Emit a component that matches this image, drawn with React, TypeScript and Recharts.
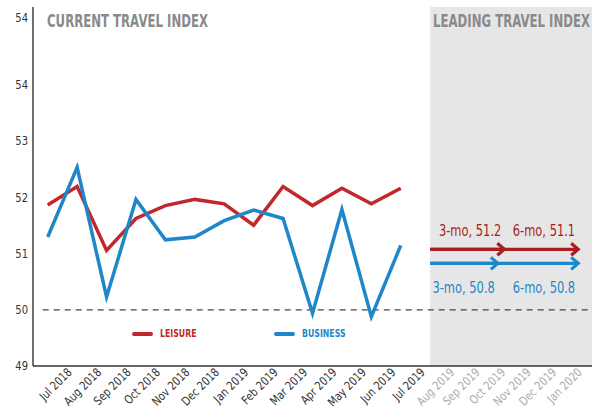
import React from 'react';
import { ComposedChart, Line, XAxis, YAxis, ReferenceArea, ReferenceLine, ReferenceDot, Legend } from 'recharts';

const months = ['Jul 2018', 'Aug 2018', 'Sep 2018', 'Oct 2018', 'Nov 2018', 'Dec 2018', 'Jan 2019', 'Feb 2019', 'Mar 2019', 'Apr 2019', 'May 2019', 'Jun 2019', 'Jul 2019', 'Aug 2019', 'Sep 2019', 'Oct 2019', 'Nov 2019', 'Dec 2019', 'Jan 2020'];
const leisure = [51.87, 52.2, 51.06, 51.63, 51.86, 51.97, 51.89, 51.51, 52.2, 51.86, 52.17, 51.89, 52.17];
const business = [51.3, 52.54, 50.23, 51.97, 51.25, 51.3, 51.59, 51.78, 51.63, 49.94, 51.79, 49.88, 51.15];
const yTicks = [49, 50, 51, 52, 53, 54, 55.2];
const yTickLabels = ['49', '50', '51', '52', '53', '54', '54'];
const forecastStart = 13;
const leisureArrowValue = 51.08;
const leisureArrowEnds = [15.52, 18.03];
const leisureArrowLabels = ['3-mo, 51.2', '6-mo, 51.1'];
const businessArrowValue = 50.83;
const businessArrowEnds = [15.3, 18.03];
const businessArrowLabels = ['3-mo, 50.8', '6-mo, 50.8'];
const baseline = 50;

const FONT = "'DejaVu Sans', sans-serif";
const RED = '#c1272d';
const RED_DARK = '#a61e22';
const BLUE = '#1f87c8';
const GREY_TITLE = '#8a8a8a';

const rows = months.map((m, i) => ({
  x: i,
  month: m,
  leisure: i < leisure.length ? leisure[i] : null,
  business: i < business.length ? business[i] : null,
}));

const CText = (p: any) => {
  const { x, y, sx = 0.76, rotate = 0, children, ...rest } = p;
  return (
    <text transform={`translate(${x},${y}) rotate(${rotate}) scale(${sx},1)`} x={0} y={0} fontFamily={FONT} {...rest}>
      {children}
    </text>
  );
};

const XTick = (props: any) => {
  const { x, y, payload } = props;
  const i = payload.value;
  const dx = 25 - Math.max(0, i - forecastStart) * 3.9;
  return (
    <CText
      x={x + dx}
      y={y + 7}
      rotate={-45}
      sx={0.82}
      textAnchor="end"
      fontSize={12}
      fill={i >= forecastStart ? '#ababab' : '#333'}
    >
      {months[i]}
    </CText>
  );
};

const YTick = (props: any) => {
  const { x, y, index } = props;
  return (
    <CText x={x} y={y} sx={0.8} textAnchor="end" dominantBaseline="central" fontSize={12.5} fill="#333">
      {yTickLabels[index]}
    </CText>
  );
};

const arrowDot = (color: string) => (props: any) => {
  const { cx, cy, index } = props;
  if (index !== 1) return <g key={`a-${index}`} />;
  return (
    <polyline
      key={`a-${index}`}
      points={`${cx - 7},${cy - 6} ${cx},${cy} ${cx - 7},${cy + 6}`}
      fill="none"
      stroke={color}
      strokeWidth={3.2}
    />
  );
};

const textShape = (text: string, color: string, dy: number) => (p: any) => (
  <CText x={p.cx - 3} y={p.cy + dy} sx={0.74} textAnchor="end" dominantBaseline="central" fontSize={15.5} fill={color}>
    {text}
  </CText>
);

const legendItems = [
  { name: 'LEISURE', color: RED },
  { name: 'BUSINESS', color: BLUE },
];

const renderLegend = () => (
  <div style={{ display: 'flex', fontFamily: FONT, fontWeight: 700, fontSize: 10 }}>
    {legendItems.map((it) => (
      <div key={it.name} style={{ width: 142, display: 'flex', alignItems: 'center' }}>
        <span style={{ display: 'inline-block', width: 21, height: 4, borderRadius: 2, background: it.color, marginRight: 7 }} />
        <span style={{ color: it.color, display: 'inline-block', transform: 'scaleX(0.78)', transformOrigin: 'left center' }}>{it.name}</span>
      </div>
    ))}
  </div>
);

const titleStyle: React.CSSProperties = {
  position: 'absolute',
  top: 11,
  fontFamily: FONT,
  fontWeight: 700,
  fontSize: 17.5,
  color: GREY_TITLE,
  whiteSpace: 'nowrap',
  transform: 'scaleX(0.67)',
  transformOrigin: 'left top',
  lineHeight: '20px',
  width: 240,
};

export default function App() {
  const arrows = [
    { key: 'l3', color: RED_DARK, value: leisureArrowValue, end: leisureArrowEnds[0] },
    { key: 'l6', color: RED_DARK, value: leisureArrowValue, end: leisureArrowEnds[1] },
    { key: 'b3', color: BLUE, value: businessArrowValue, end: businessArrowEnds[0] },
    { key: 'b6', color: BLUE, value: businessArrowValue, end: businessArrowEnds[1] },
  ];
  const labels = [
    { key: 'tl3', text: leisureArrowLabels[0], color: RED_DARK, x: leisureArrowEnds[0], y: leisureArrowValue, dy: -19 },
    { key: 'tl6', text: leisureArrowLabels[1], color: RED_DARK, x: leisureArrowEnds[1], y: leisureArrowValue, dy: -19 },
    { key: 'tb3', text: businessArrowLabels[0], color: BLUE, x: businessArrowEnds[0], y: businessArrowValue, dy: 24 },
    { key: 'tb6', text: businessArrowLabels[1], color: BLUE, x: businessArrowEnds[1], y: businessArrowValue, dy: 24 },
  ];
  return (
    <div style={{ position: 'absolute', left: 0, top: 0, width: 592, height: 410, background: '#fff', overflow: 'hidden' }}>
      <ComposedChart width={592} height={410} data={rows} margin={{ top: 7, right: 0, bottom: 0, left: 0 }}>
        <ReferenceArea x1={forecastStart} x2={18.5} y1={49} y2={55.4} fill="#e6e6e6" fillOpacity={1} stroke="none" ifOverflow="visible" />
        <XAxis
          dataKey="x"
          type="number"
          domain={[-0.5, 18.5]}
          ticks={months.map((_, i) => i)}
          interval={0}
          tick={<XTick />}
          tickLine={false}
          tickSize={0}
          tickMargin={0}
          axisLine={{ stroke: '#333', strokeWidth: 1.4 }}
          height={44}
          allowDataOverflow
        />
        <YAxis
          type="number"
          domain={[49, 55.4]}
          ticks={yTicks}
          interval={0}
          tick={<YTick />}
          tickLine={false}
          tickSize={0}
          tickMargin={5}
          axisLine={{ stroke: '#333', strokeWidth: 1.4 }}
          width={33}
          allowDataOverflow
        />
        <ReferenceLine
          segment={[{ x: -0.17, y: baseline }, { x: 18.5, y: baseline }]}
          stroke="#444"
          strokeWidth={1.3}
          strokeDasharray="6 5"
          ifOverflow="visible"
        />
        <Line dataKey="leisure" stroke={RED} strokeWidth={3.5} dot={false} isAnimationActive={false} connectNulls={false} legendType="none" />
        <Line dataKey="business" stroke={BLUE} strokeWidth={3.5} dot={false} isAnimationActive={false} connectNulls={false} legendType="none" />
        {arrows.map((a) => (
          <Line
            key={a.key}
            data={[{ x: forecastStart, y: a.value }, { x: a.end, y: a.value }]}
            dataKey="y"
            stroke={a.color}
            strokeWidth={3.2}
            dot={arrowDot(a.color)}
            isAnimationActive={false}
            legendType="none"
          />
        ))}
        {labels.map((l) => (
          <ReferenceDot key={l.key} x={l.x} y={l.y} r={0} shape={textShape(l.text, l.color, l.dy)} ifOverflow="visible" />
        ))}
        <Legend
          content={renderLegend}
          layout="horizontal"
          verticalAlign="middle"
          align="center"
          wrapperStyle={{ position: 'absolute', left: 132, top: 328, width: 'auto' }}
        />
      </ComposedChart>
      <div style={{ ...titleStyle, left: 47 }}>CURRENT TRAVEL INDEX</div>
      <div style={{ ...titleStyle, left: 433 }}>LEADING TRAVEL INDEX</div>
    </div>
  );
}
